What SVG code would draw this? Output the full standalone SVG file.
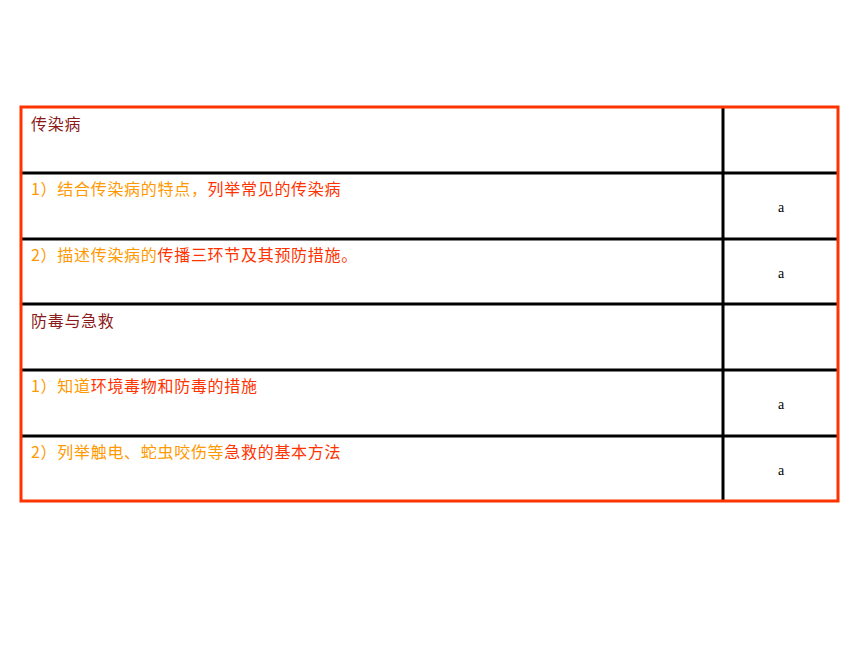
<svg xmlns="http://www.w3.org/2000/svg" width="860" height="645" viewBox="0 0 860 645">
<style>
.grid{stroke:#000;stroke-width:3;fill:none}
.frame{stroke:#FF3300;stroke-width:3;fill:none}
.t{font-family:"Noto Sans CJK SC","Noto Sans CJK JP",sans-serif;font-size:16px;letter-spacing:0.7px}
.h{fill:#8B1A1A}
.o{fill:#FF9900}
.r{fill:#FF3300}
.a{font-family:"Liberation Serif",serif;font-size:14px;fill:#000;text-anchor:middle}
</style>
<rect width="860" height="645" fill="#fff"/>
<g id="grid">
<line class="grid" x1="21" y1="173" x2="838" y2="173"/>
<line class="grid" x1="21" y1="239" x2="838" y2="239"/>
<line class="grid" x1="21" y1="304" x2="838" y2="304"/>
<line class="grid" x1="21" y1="370" x2="838" y2="370"/>
<line class="grid" x1="21" y1="436" x2="838" y2="436"/>
<line class="grid" x1="723" y1="107" x2="723" y2="501"/>
<rect class="frame" x="21" y="107" width="817" height="394"/>
</g>
<g id="row1"><text class="t h" x="31" y="130">传染病</text></g>
<g id="row2"><text class="t" x="31" y="195"><tspan class="o">1）结合传染病的特点，</tspan><tspan class="r">列举常见的传染病</tspan></text><text class="a" x="781" y="212">a</text></g>
<g id="row3"><text class="t" x="31" y="261"><tspan class="o">2）描述传染病的</tspan><tspan class="r">传播三环节及其预防措施。</tspan></text><text class="a" x="781" y="278">a</text></g>
<g id="row4"><text class="t h" x="31" y="327">防毒与急救</text></g>
<g id="row5"><text class="t" x="31" y="392"><tspan class="o">1）知道</tspan><tspan class="r">环境毒物和防毒的措施</tspan></text><text class="a" x="781" y="409">a</text></g>
<g id="row6"><text class="t" x="31" y="458"><tspan class="o">2）列举触电、蛇虫咬伤等</tspan><tspan class="r">急救的基本方法</tspan></text><text class="a" x="781" y="475">a</text></g>
</svg>
